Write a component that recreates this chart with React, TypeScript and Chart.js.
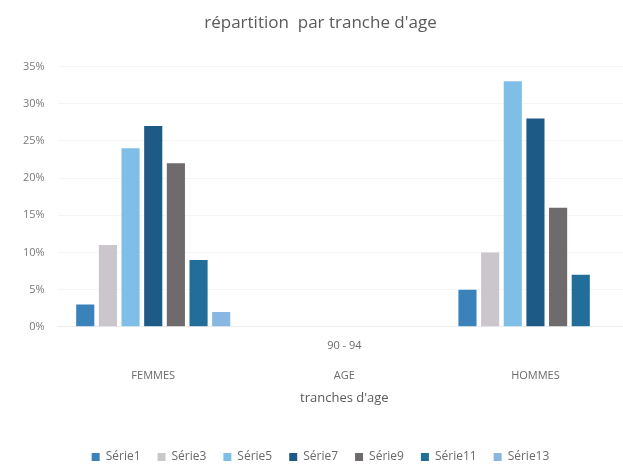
import React, { useEffect, useRef } from "react";
import { Chart, registerables } from "chart.js";

Chart.register(...registerables);

const categories: string[][] = [
  ["", "", "FEMMES"],
  ["90 - 94", "", "AGE"],
  ["", "", "HOMMES"],
];
const seriesNames = ["Série1", "Série3", "Série5", "Série7", "Série9", "Série11", "Série13"];
const serie1 = [3, 0, 5];
const serie3 = [11, 0, 10];
const serie5 = [24, 0, 33];
const serie7 = [27, 0, 28];
const serie9 = [22, 0, 16];
const serie11 = [9, 0, 7];
const serie13 = [2, 0, 0];
const seriesValues = [serie1, serie3, serie5, serie7, serie9, serie11, serie13];
const seriesColors = ["#3b82bb", "#cac6cc", "#7fbfe7", "#1d5a85", "#6f6b6c", "#226d99", "#88b8e1"];
const yTicks = [0, 5, 10, 15, 20, 25, 30, 35];

const FONT = "'Open Sans', 'Liberation Sans', sans-serif";

export default function App() {
  const ref = useRef<HTMLCanvasElement | null>(null);
  useEffect(() => {
    if (!ref.current) return;
    const chart = new Chart(ref.current, {
      type: "bar",
      data: {
        labels: categories,
        datasets: seriesNames.map((name, i) => ({
          label: name,
          data: seriesValues[i],
          backgroundColor: seriesColors[i],
          borderWidth: 0,
          categoryPercentage: 0.83,
          barPercentage: 0.8,
        })),
      },
      options: {
        responsive: false,
        animation: false,
        devicePixelRatio: 1,
        layout: { padding: { left: 10, right: 9, top: 11, bottom: -6 } },
        plugins: {
          title: {
            display: true,
            text: "répartition  par tranche d'age",
            color: "#5a5a5a",
            font: { family: FONT, size: 17, weight: "normal" },
            padding: { top: 2, bottom: 33 },
          },
          legend: {
            position: "bottom",
            labels: {
              boxWidth: 8,
              boxHeight: 8,
              color: "#6a6a6a",
              font: { family: FONT, size: 12 },
              padding: 17,
            },
          },
          tooltip: { enabled: false },
        },
        scales: {
          x: {
            grid: { display: false, drawTicks: false },
            border: { display: true, color: "#ececec" },
            ticks: {
              color: "#6a6a6a",
              font: { family: FONT, size: 11, lineHeight: 1.35 },
              padding: 12,
              autoSkip: false,
              maxRotation: 0,
            },
            title: {
              display: true,
              text: "tranches d'age",
              color: "#5a5a5a",
              font: { family: FONT, size: 13 },
              padding: { top: -5, bottom: 28 },
            },
          },
          y: {
            min: 0,
            max: 35,
            afterBuildTicks: (axis: any) => {
              axis.ticks = yTicks.map((v) => ({ value: v }));
            },
            grid: { color: "rgba(0,0,0,0.04)", drawTicks: false },
            border: { display: false },
            ticks: {
              color: "#7a7a7a",
              font: { family: FONT, size: 11 },
              padding: 13,
              callback: (v: any) => `${v}%`,
            },
          },
        },
      },
    });
    return () => chart.destroy();
  }, []);
  return (
    <div style={{ position: "fixed", left: 0, top: 0, width: 623, height: 467, overflow: "hidden", background: "#fff" }}>
      <canvas ref={ref} width={640} height={467} style={{ display: "block" }} />
    </div>
  );
}
